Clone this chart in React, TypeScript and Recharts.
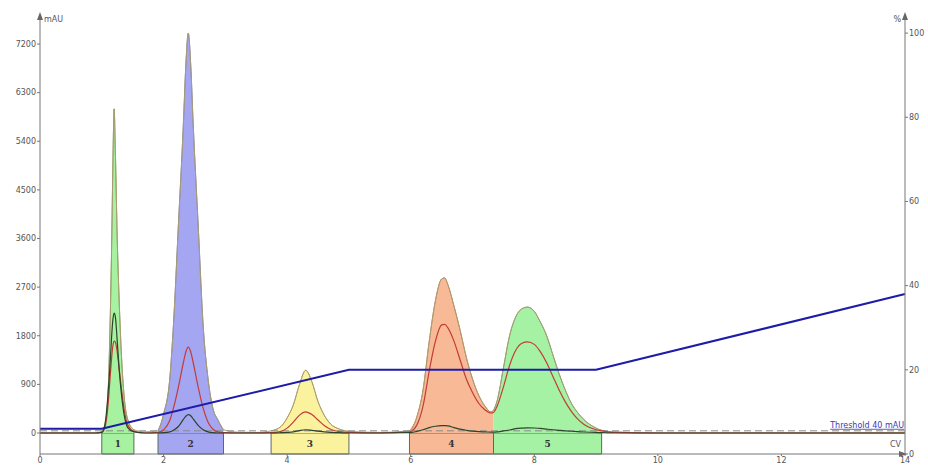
import React from 'react';
import {
  ComposedChart,
  Area,
  Line,
  XAxis,
  YAxis,
  ReferenceArea,
  ReferenceLine
} from 'recharts';

// retention volume (CV)
const cv = [
  0, 0.5, 0.9, 1.0, 1.05, 1.1, 1.13, 1.16, 1.18, 1.2, 1.22, 1.25, 1.28, 1.32, 1.36, 1.42, 1.52, 1.7,
  1.91, 2.0, 2.1, 2.16, 2.24, 2.32, 2.36, 2.4, 2.44, 2.48, 2.56, 2.64, 2.72, 2.8, 2.88, 2.97, 3.2, 3.5,
  3.74, 3.9, 4.0, 4.1, 4.2, 4.3, 4.4, 4.5, 4.6, 4.7, 4.85, 5.0, 5.5,
  5.98, 6.1, 6.2, 6.3, 6.4, 6.5, 6.55, 6.6, 6.7, 6.8, 6.9, 7.0, 7.1, 7.2, 7.3, 7.34,
  7.4, 7.5, 7.6, 7.7, 7.8, 7.89, 8.0, 8.1, 8.2, 8.3, 8.4, 8.5, 8.6, 8.7, 8.8, 9.0, 9.09, 9.3, 10, 12, 14
];

// 主 UV 訊號 (mAU)
const uvMain = [
  0, 0, 0, 30, 150, 700, 1800, 3500, 5000, 6000, 5200, 3600, 2500, 1400, 700, 250, 60, 20,
  40, 350, 1000, 2000, 3850, 5700, 6800, 7400, 6800, 5700, 3850, 2000, 1000, 450, 240, 60, 15, 10,
  40, 120, 280, 520, 900, 1160, 950, 580, 330, 170, 70, 30, 10,
  40, 300, 800, 1700, 2450, 2850, 2870, 2750, 2350, 1900, 1400, 1000, 700, 500, 390, 420,
  600, 1200, 1800, 2150, 2300, 2330, 2250, 2050, 1800, 1450, 1100, 800, 550, 380, 250, 90, 50, 20, 0, 0, 0
];

// 第二波長 (紅線)
const uvSecond = [
  0, 0, 0, 10, 100, 500, 950, 1400, 1620, 1700, 1680, 1500, 1200, 800, 450, 150, 30, 0,
  10, 60, 230, 460, 850, 1300, 1500, 1590, 1500, 1300, 850, 460, 200, 70, 20, 5, 0, 0,
  5, 30, 90, 200, 330, 390, 340, 240, 140, 70, 25, 10, 0,
  20, 150, 500, 1150, 1700, 2000, 2010, 1950, 1700, 1350, 1000, 750, 550, 430, 370, 380,
  500, 850, 1250, 1530, 1660, 1685, 1640, 1500, 1300, 1050, 800, 580, 400, 260, 160, 60, 40, 10, 0, 0, 0
];

// 第三波長 (深色線)
const uvThird = [
  0, 0, 0, 10, 150, 700, 1200, 1800, 2100, 2220, 2150, 1700, 1200, 700, 350, 100, 20, 0,
  0, 5, 20, 50, 120, 250, 310, 340, 320, 260, 140, 60, 20, 5, 0, 0, 0, 0,
  0, 5, 10, 20, 45, 60, 50, 35, 20, 10, 5, 0, 0,
  5, 30, 60, 100, 125, 135, 135, 130, 100, 70, 50, 35, 25, 20, 15, 15,
  20, 40, 55, 80, 90, 95, 92, 85, 72, 60, 50, 40, 32, 25, 18, 10, 5, 0, 0, 0, 0
];

// 梯度 (%B) 轉折點
const gradientCv = [0, 1.0, 5.0, 9.0, 14];
const gradientPct = [6, 6, 20, 20, 38];

// 收集區段
const fractionNames = ['1', '2', '3', '4', '5'];
const fractionFrom = [1.0, 1.91, 3.74, 5.98, 7.34];
const fractionTo = [1.52, 2.97, 5.0, 7.34, 9.09];
const fractionFill = ['#a6f2a0', '#a4a6f2', '#fbf29e', '#f8ba96', '#a6f2a4'];
const fractionStroke = ['#8aa866', '#8484b8', '#c9b862', '#d08a62', '#7cae6c'];

const xTicks = [0, 2, 4, 6, 8, 10, 12, 14];
const leftTicks = [0, 900, 1800, 2700, 3600, 4500, 5400, 6300, 7200];
const rightTicks = [0, 20, 40, 60, 80, 100];

const LEFT_MIN = -389;
const LEFT_MAX = 7737;
const THRESHOLD = 40;

const chartData = cv.map((x, i) => {
  const row: Record<string, number | null> = {
    cv: x,
    uvMain: uvMain[i],
    uvSecond: uvSecond[i],
    uvThird: uvThird[i],
    gradient: null
  };
  const g = gradientCv.indexOf(x);
  if (g >= 0) row.gradient = gradientPct[g];
  fractionNames.forEach((_, k) => {
    row[`f${k}`] = x >= fractionFrom[k] && x <= fractionTo[k] ? uvMain[i] : null;
  });
  return row;
});

const tickStyle = { fontSize: 8, fill: '#555', fontFamily: 'DejaVu Sans' };

const LeftAxisLabel = (props: any) => {
  const { viewBox } = props;
  const x = viewBox.x + viewBox.width;
  const y = viewBox.y;
  return (
    <g>
      <path d={`M${x - 3},${y + 5} L${x},${y - 3} L${x + 3},${y + 5} Z`} fill="#666" />
      <text x={x + 4} y={y + 7} fontSize={8} fill="#555" fontFamily="DejaVu Sans">mAU</text>
    </g>
  );
};

const RightAxisLabel = (props: any) => {
  const { viewBox } = props;
  const x = viewBox.x;
  const y = viewBox.y;
  return (
    <g>
      <path d={`M${x - 3},${y + 5} L${x},${y - 3} L${x + 3},${y + 5} Z`} fill="#666" />
      <text x={x - 4} y={y + 7} fontSize={8} fill="#555" textAnchor="end" fontFamily="DejaVu Sans">%</text>
    </g>
  );
};

const XAxisLabel = (props: any) => {
  const { viewBox } = props;
  const x = viewBox.x + viewBox.width;
  const y = viewBox.y;
  return (
    <g>
      <path d={`M${x - 6},${y - 3} L${x + 2},${y} L${x - 6},${y + 3} Z`} fill="#666" />
      <text x={x - 4} y={y - 7} fontSize={8} fill="#555" textAnchor="end" fontFamily="DejaVu Sans">CV</text>
    </g>
  );
};

const ThresholdLabel = (props: any) => {
  const { viewBox } = props;
  const x = viewBox.x + viewBox.width;
  const y = viewBox.y;
  return (
    <text
      x={x - 1}
      y={y - 3}
      fontSize={8}
      fill="#3a3ab8"
      textAnchor="end"
      textDecoration="underline"
      fontFamily="DejaVu Sans"
    >
      Threshold 40 mAU
    </text>
  );
};

export default function App() {
  return (
    <div style={{ position: 'absolute', left: 0, top: 0, background: '#fff' }}>
      <ComposedChart
        width={928}
        height={467}
        data={chartData}
        margin={{ top: 15, right: 0, bottom: 0, left: 0 }}
      >
        <XAxis
          dataKey="cv"
          type="number"
          domain={[0, 14]}
          ticks={xTicks}
          height={13}
          tickSize={2}
          tickMargin={1}
          stroke="#777"
          tick={tickStyle}
          label={{ content: XAxisLabel }}
        />
        <YAxis
          yAxisId="left"
          type="number"
          domain={[LEFT_MIN, LEFT_MAX]}
          ticks={leftTicks}
          allowDataOverflow
          width={40}
          tickSize={3}
          tickMargin={1}
          stroke="#777"
          tick={tickStyle}
          label={{ content: LeftAxisLabel }}
        />
        <YAxis
          yAxisId="right"
          orientation="right"
          type="number"
          domain={[0, 104.3]}
          ticks={rightTicks}
          allowDataOverflow
          width={23}
          tickSize={3}
          tickMargin={1}
          stroke="#777"
          tick={tickStyle}
          label={{ content: RightAxisLabel }}
        />

        {fractionNames.map((name, k) => (
          <ReferenceArea
            key={`frac-${name}`}
            yAxisId="left"
            x1={fractionFrom[k]}
            x2={fractionTo[k]}
            y1={LEFT_MIN}
            y2={0}
            fill={fractionFill[k]}
            fillOpacity={1}
            stroke="#5c6a5c"
            strokeWidth={1}
            label={{ value: name, position: 'center', fontSize: 9, fill: '#333', fontWeight: 'bold', fontFamily: 'DejaVu Serif' }}
          />
        ))}

        <Line
          yAxisId="left"
          dataKey="uvMain"
          type="monotone"
          stroke="#a89c72"
          strokeWidth={1}
          dot={false}
          activeDot={false}
          isAnimationActive={false}
        />

        {fractionNames.map((name, k) => (
          <Area
            key={`peak-${name}`}
            yAxisId="left"
            dataKey={`f${k}`}
            type="monotone"
            fill={fractionFill[k]}
            fillOpacity={1}
            stroke={fractionStroke[k]}
            strokeWidth={1}
            dot={false}
            activeDot={false}
            isAnimationActive={false}
          />
        ))}

        <ReferenceLine
          yAxisId="left"
          y={THRESHOLD}
          stroke="#8a8a8a"
          strokeDasharray="7 4"
          label={{ content: ThresholdLabel }}
        />

        <Line
          yAxisId="left"
          dataKey="uvSecond"
          type="monotone"
          stroke="#c23c36"
          strokeWidth={1.2}
          dot={false}
          activeDot={false}
          isAnimationActive={false}
        />
        <Line
          yAxisId="left"
          dataKey="uvThird"
          type="monotone"
          stroke="#2c442c"
          strokeWidth={1.2}
          dot={false}
          activeDot={false}
          isAnimationActive={false}
        />
        <Line
          yAxisId="right"
          dataKey="gradient"
          type="linear"
          connectNulls
          stroke="#1c1ca8"
          strokeWidth={2}
          dot={false}
          activeDot={false}
          isAnimationActive={false}
        />
      </ComposedChart>
    </div>
  );
}
